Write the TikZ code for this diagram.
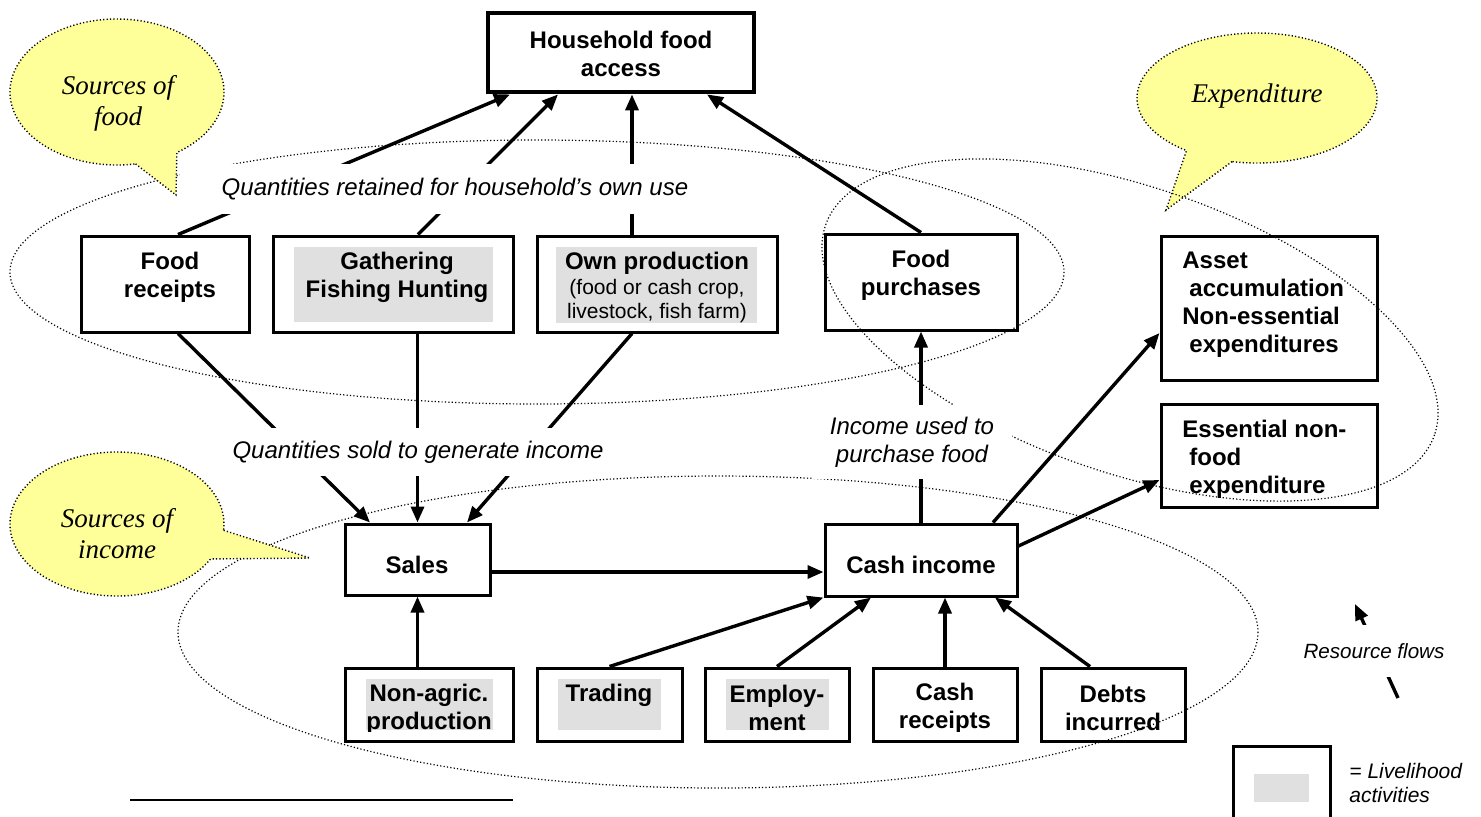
\documentclass[tikz,border=0pt]{standalone}
\usepackage{fontspec}
\setmainfont{Liberation Sans}
\newfontfamily\calloutfont{Liberation Serif}
\usetikzlibrary{arrows.meta,fit,calc}
\definecolor{calloutyellow}{RGB}{255,255,153}
\definecolor{livegray}{RGB}{224,224,224}

\begin{document}
\begin{tikzpicture}[x=0.5pt, y=-0.5pt,
  frame/.style={draw, line width=1.5pt, inner sep=0pt},
  mainframe/.style={draw, line width=2.4pt, inner sep=0pt},
  activity/.style={fill=livegray, inner sep=0pt},
  boxtext/.style={font=\bfseries\fontsize{12}{14}\selectfont, align=center, inner sep=0pt},
  subtext/.style={font=\fontsize{10.5}{12}\selectfont, align=center, inner sep=0pt},
  flow/.style={line width=1.7pt, -{Triangle[length=8pt,width=6.5pt]}},
  gapbox/.style={fill=white, inner sep=0pt, align=center, font=\itshape\fontsize{12}{14}\selectfont},
  zone/.style={line width=0.6pt, dash pattern=on 0.6pt off 1.1pt},
  bubble/.style={fill=calloutyellow, draw, line width=0.7pt, dash pattern=on 0.6pt off 1.1pt},
  bubbletext/.style={font=\calloutfont\itshape\fontsize{13.5}{15.5}\selectfont, align=center, inner sep=0pt},
]
\useasboundingbox (0,0) rectangle (1481,816);

% dotted zones: sources of food, sources of income
\draw[zone] (537,272) ellipse [x radius=527, y radius=132];
\draw[zone] (718,632) ellipse [x radius=540, y radius=156];

% speech bubbles
\path[bubble] ($(117,92)+(80:107 and 73)$) -- (176,195) -- ($(117,92)+(56:107 and 73)$)
  arc[start angle=56, end angle=-280, x radius=107, y radius=73] -- cycle;
\node[bubbletext] (foodsrc) at (118,103) {Sources of\\food};

\path[bubble] ($(1257,98)+(102:120 and 65)$) -- (1166,210) -- ($(1257,98)+(126:120 and 65)$)
  arc[start angle=126, end angle=462, x radius=120, y radius=65] -- cycle;
\node[bubbletext] (expsrc) at (1257,96) {Expenditure};

\path[bubble] ($(117,524)+(5:107 and 72)$) -- (310,558) -- ($(117,524)+(29:107 and 72)$)
  arc[start angle=29, end angle=365, x radius=107, y radius=72] -- cycle;
\node[bubbletext] (incsrc) at (117,534) {Sources of\\income};

% dotted zone: expenditure
\draw[zone, rotate around={-19:(1130,330)}] (1130,330) ellipse [x radius=322, y radius=143];

% boxes
\node[mainframe, fit={(488,13) (754,92)}] (hh) {};
\node[frame, fit={(81,236) (249,332)}] (fr) {};
\node[frame, fit={(273,236) (513,332)}] (gfh) {};
\node[frame, fit={(537,236) (777,332)}] (own) {};
\node[frame, fit={(825,234) (1017,330)}] (fp) {};
\node[frame, fit={(1161,236) (1377,380)}] (asset) {};
\node[frame, fit={(1161,404) (1377,507)}] (ess) {};
\node[frame, fit={(345,524) (490,595)}] (sales) {};
\node[frame, fit={(825,524) (1017,596)}] (cash) {};
\node[frame, fit={(345,668) (513,741)}] (nonag) {};
\node[frame, fit={(537,668) (682,741)}] (trading) {};
\node[frame, fit={(705,668) (849,741)}] (empl) {};
\node[frame, fit={(873,668) (1017,741)}] (cashrec) {};
\node[frame, fit={(1041,668) (1185,741)}] (debts) {};

% livelihood activity shading
\node[activity, fit={(294,247) (493,322)}] (gfhA) {};
\node[activity, fit={(556,247) (757,323)}] (ownA) {};

% box texts
\node[boxtext] (hhT) at (621,54) {Household food\\access};
\node[boxtext] (frT) at (170,277) {Food\\receipts};
\node[boxtext] (gfhT) at (397,277) {Gathering\\Fishing Hunting};
\node[boxtext] (ownT) at (657,263) {Own production};
\node[subtext] (ownS) at (657,301) {(food or cash crop,\\livestock, fish farm)};
\node[boxtext] (fpT) at (921,275) {Food\\purchases};
\node[boxtext, align=left, anchor=west] (assetT) at (1182,305)
  {Asset\\\hspace*{3.5pt}accumulation\\Non-essential\\\hspace*{3.5pt}expenditures};
\node[boxtext, align=left, anchor=west] (essT) at (1182,459)
  {Essential non-\\\hspace*{3.5pt}food\\\hspace*{3.5pt}expenditure};
\node[boxtext] (salesT) at (417,565) {Sales};
\node[boxtext] (cashT) at (921,565) {Cash income};

\begin{scope}
  \clip (0,0) rectangle (1481,731);
  \node[activity, fit={(366,679) (493,730)}] (nonagA) {};
  \node[activity, fit={(558,679) (661,730)}] (tradingA) {};
  \node[activity, fit={(726,679) (829,730)}] (emplA) {};
  \node[boxtext] (nonagT) at (429,709) {Non-agric.\\production};
  \node[boxtext] (tradingT) at (609,695) {Trading};
  \node[boxtext] (emplT) at (777,708) {Employ-\\ment};
  \node[boxtext] (cashrecT) at (945,708) {Cash\\receipts};
  \node[boxtext] (debtsT) at (1113,708) {Debts\\incurred};
\end{scope}

% resource flows
\draw[flow] ($(fr.north)+(13,0)$) -- ($(hh.south)+(-111,0)$);
\draw[flow] ($(gfh.north)+(25,0)$) -- ($(hh.south)+(-63,0)$);
\draw[flow] ($(own.north)+(-25,0)$) -- ($(hh.south)+(11,0)$);
\draw[flow] (fp.north) -- ($(hh.south)+(86,0)$);

\draw[flow] ($(fr.south)+(13,0)$) -- ($(sales.north)+(-47.5,0)$);
\draw[flow] ($(gfh.south)+(24.5,0)$) -- (sales.north);
\draw[flow] ($(own.south)+(-25,0)$) -- ($(sales.north)+(49.5,0)$);

\draw[flow] ($(sales.east)+(0,12.5)$) -- ($(cash.west)+(0,12)$);
\draw[flow] ($(nonag.north)+(-11.5,0)$) -- (sales.south);
\draw[flow] (trading.north) -- (cash.south west);
\draw[flow] (empl.north) -- ($(cash.south)+(-50,0)$);
\draw[flow] (cashrec.north) -- ($(cash.south)+(24,0)$);
\draw[flow] ($(debts.north)+(-23,0)$) -- ($(cash.south)+(74,0)$);

\draw[flow] (cash.north) -- (fp.south);
\draw[flow] ($(cash.north)+(72,0)$) -- ($(asset.west)+(0,25)$);
\draw[flow] ($(cash.east)+(0,-14)$) -- ($(ess.west)+(0,24.5)$);

% flow labels
\node[gapbox, minimum width=275pt, minimum height=25pt] (retained) at (455,189)
  {Quantities retained for household’s own use};
\node[gapbox, minimum width=195pt, minimum height=24pt] (sold) at (418,452)
  {Quantities sold to generate income};
\node[gapbox, minimum width=100pt, minimum height=37pt] (used) at (912,442)
  {Income used to\\purchase food};

% key
\coordinate (rftail) at (1398,698);
\coordinate (rfhead) at (1355,604);
\draw[flow] (rftail) -- (rfhead);
\node[gapbox, minimum width=75pt, minimum height=26pt, font=\itshape\fontsize{10.3}{12}\selectfont]
  (rflabel) at (1374,651) {Resource flows};

\node[frame, fit={(1233,746) (1330,850)}] (keybox) {};
\node[activity, fit={(1254,774) (1309,802)}] (keyswatch) {};
\node[anchor=west, align=left, inner sep=0pt, font=\itshape\fontsize{10.5}{12}\selectfont]
  (keytext) at (1349,783) {= Livelihood\\activities};

% footnote rule
\draw[line width=1pt] (130,800) -- (513,800);
\end{tikzpicture}
\end{document}
